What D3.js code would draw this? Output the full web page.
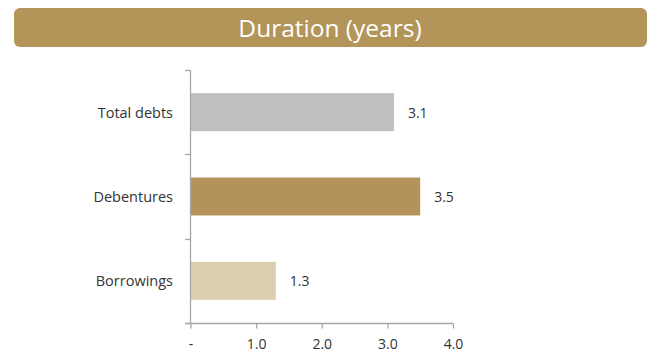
<!DOCTYPE html>
<html>
<head>
<meta charset="utf-8">
<script src="https://cdn.jsdelivr.net/npm/d3@7"></script>
<style>
  html, body { margin: 0; padding: 0; background: #fff; }
  svg { display: block; }
  text { font-family: "Open Sans", Lato, sans-serif; }
</style>
</head>
<body>
<script>
// Duration of debt instruments, in years
const title = "Duration (years)";
const categories = ["Total debts", "Debentures", "Borrowings"];
const durations = [3.1, 3.5, 1.3];
const barColors = ["#BFBFBF", "#B3935A", "#DDCDAF"];
const xTicks = [0, 1, 2, 3, 4];
const xTickLabels = ["-", "1.0", "2.0", "3.0", "4.0"];

const W = 651, H = 349;
const svg = d3.select("body").append("svg").attr("width", W).attr("height", H);

// Title banner
svg.append("rect")
  .attr("x", 14).attr("y", 8).attr("width", 633).attr("height", 39)
  .attr("rx", 6).attr("ry", 6)
  .attr("fill", "#B39459");
svg.append("text")
  .attr("x", 330).attr("y", 27)
  .attr("text-anchor", "middle").attr("dominant-baseline", "central")
  .attr("fill", "#fff").attr("font-size", 24.5)
  .text(title);

const x = d3.scaleLinear().domain([0, 4]).range([190.5, 453]);
const y = d3.scaleBand().domain(categories).range([70, 323]).paddingInner(0.55).paddingOuter(0.275);

const axisColor = "#A6A6A6";

// Bars
svg.append("g").selectAll("rect")
  .data(categories)
  .join("rect")
  .attr("x", x(0))
  .attr("y", d => y(d))
  .attr("width", (d, i) => x(durations[i]) - x(0))
  .attr("height", y.bandwidth())
  .attr("fill", (d, i) => barColors[i]);

// Value labels
svg.append("g").selectAll("text")
  .data(categories)
  .join("text")
  .attr("x", (d, i) => x(durations[i]) + 14)
  .attr("y", (d) => y(d) + y.bandwidth() / 2)
  .attr("dominant-baseline", "central")
  .attr("font-size", 14)
  .attr("fill", "#333")
  .text((d, i) => durations[i].toFixed(1));

// Y axis: boundaries between categories get tick marks
const yBounds = [70, ...categories.map((c, i) => 70 + (i + 1) * (253 / categories.length))];
const yAxisG = svg.append("g");
yAxisG.append("line")
  .attr("x1", 190.5).attr("x2", 190.5).attr("y1", 70).attr("y2", 323)
  .attr("stroke", axisColor).attr("stroke-width", 1.3);
yAxisG.selectAll("line.tick")
  .data(yBounds)
  .join("line").attr("class", "tick")
  .attr("x1", 185).attr("x2", 190.5)
  .attr("y1", d => Math.round(d) + 0.5).attr("y2", d => Math.round(d) + 0.5)
  .attr("stroke", axisColor).attr("stroke-width", 1.3);
yAxisG.selectAll("text")
  .data(categories)
  .join("text")
  .attr("x", 173)
  .attr("y", d => y(d) + y.bandwidth() / 2)
  .attr("text-anchor", "end")
  .attr("dominant-baseline", "central")
  .attr("font-size", 14.5)
  .attr("fill", "#333")
  .text(d => d);

// X axis
const xAxis = d3.axisBottom(x)
  .tickValues(xTicks)
  .tickFormat((d, i) => xTickLabels[i])
  .tickSize(5)
  .tickSizeOuter(0);
const xg = svg.append("g").attr("transform", "translate(0,323.5)").call(xAxis);
xg.select(".domain").attr("stroke", axisColor).attr("stroke-width", 1.3)
  .attr("d", `M185,0H${x(4)}`);
xg.selectAll(".tick line").attr("stroke", axisColor).attr("stroke-width", 1.3);
xg.selectAll(".tick text")
  .attr("font-family", "'Open Sans', Lato, sans-serif")
  .attr("font-size", 14)
  .attr("fill", "#333")
  .attr("dy", null)
  .attr("y", 20)
  .attr("dominant-baseline", "central");
</script>
</body>
</html>
